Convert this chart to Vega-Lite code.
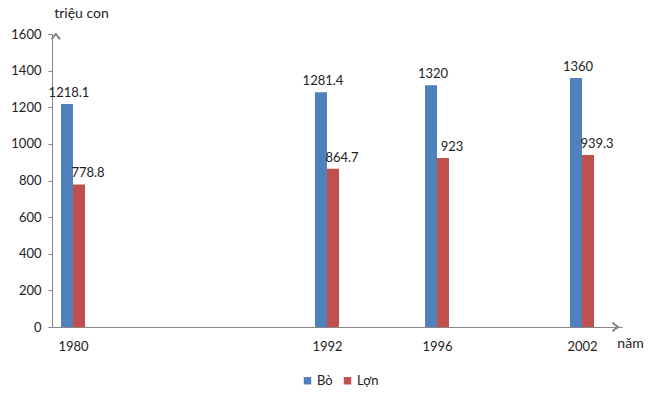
{
  "$schema": "https://vega.github.io/schema/vega-lite/v6.json",
  "autosize": "none",
  "padding": {"left": 52, "top": 34, "right": 29, "bottom": 73},
  "width": 570,
  "height": 293,
  "background": "white",
  "config": {
    "view": {"stroke": null},
    "font": "Lato",
    "axis": {"grid": false, "domainColor": "#868686", "tickColor": "#868686", "labelColor": "#222", "labelFont": "Lato", "labelFontSize": 13, "titleFont": "Lato", "titleFontWeight": "normal", "titleFontSize": 14, "titleColor": "#222", "labelOverlap": false, "labelFlush": false, "labelSeparation": 0}
  },
  "data": {
    "values": [
      {"nam": 1980, "loai": "Bò", "so": 1218.1},
      {"nam": 1992, "loai": "Bò", "so": 1281.4},
      {"nam": 1996, "loai": "Bò", "so": 1320},
      {"nam": 2002, "loai": "Bò", "so": 1360},
      {"nam": 1980, "loai": "Lợn", "so": 778.8},
      {"nam": 1992, "loai": "Lợn", "so": 864.7},
      {"nam": 1996, "loai": "Lợn", "so": 923},
      {"nam": 2002, "loai": "Lợn", "so": 939.3}
    ]
  },
  "encoding": {
    "x": {"field": "nam", "type": "quantitative",
      "scale": {"domain": [1979, 1980, 1992, 1996, 2002, 2004], "range": [0, 21, 275, 385, 530, 570], "nice": false, "zero": false},
      "axis": {"values": [1980, 1992, 1996, 2002], "format": "d", "ticks": false, "labelPadding": 13, "labelOverlap": false, "title": "năm", "titleX": 578, "titleY": 16, "titleAlign": "center", "titleBaseline": "middle"}},
    "y": {"field": "so", "type": "quantitative",
      "scale": {"domain": [0, 1600], "nice": false, "zero": true},
      "axis": {"values": [0, 200, 400, 600, 800, 1000, 1200, 1400, 1600], "labelOverlap": false, "format": "d", "tickSize": 4, "labelPadding": 7, "title": "triệu con", "titleAngle": 0, "titleX": 29, "titleY": -21, "titleAlign": "center", "titleBaseline": "middle"}}
  },
  "layer": [
    {
      "transform": [{"filter": "datum.loai === 'Bò'"}],
      "mark": {"type": "bar", "orient": "vertical", "width": 12, "xOffset": -6},
      "encoding": {
        "color": {"field": "loai", "type": "nominal",
          "scale": {"domain": ["Bò", "Lợn"], "range": ["#4F81BD", "#C0504D"]},
          "legend": {"title": null, "orient": "none", "legendX": 249, "legendY": 340, "direction": "horizontal", "symbolType": "square", "symbolSize": 55, "labelFontSize": 13, "labelFont": "Lato", "labelColor": "#222", "columnPadding": 8, "labelOffset": 3, "symbolStrokeWidth": 0}}
      }
    },
    {
      "transform": [{"filter": "datum.loai === 'Lợn'"}],
      "mark": {"type": "bar", "orient": "vertical", "width": 12, "xOffset": 6},
      "encoding": {
        "color": {"field": "loai", "type": "nominal"}
      }
    },
    {
      "transform": [{"filter": "datum.loai === 'Bò'"}],
      "mark": {"type": "text", "xOffset": -4, "dy": -7, "baseline": "alphabetic", "align": "center", "fontSize": 13, "font": "Lato", "color": "#222"},
      "encoding": {
        "text": {"field": "so", "type": "nominal"}
      }
    },
    {
      "transform": [{"filter": "datum.loai === 'Lợn'"}],
      "mark": {"type": "text", "xOffset": 15, "dy": -7, "baseline": "alphabetic", "align": "center", "fontSize": 13, "font": "Lato", "color": "#222"},
      "encoding": {
        "text": {"field": "so", "type": "nominal"}
      }
    },
    {
      "mark": {"type": "point", "shape": "M-1,1.3L0,0L1,1.3", "filled": false, "stroke": "#868686", "strokeWidth": 1.2, "size": 64, "opacity": 1},
      "encoding": {
        "x": {"datum": 1979, "type": "quantitative"},
        "y": {"datum": 1600, "type": "quantitative"}
      }
    },
    {
      "mark": {"type": "point", "shape": "M-1.3,-1L0,0L-1.3,1", "filled": false, "stroke": "#868686", "strokeWidth": 1.2, "size": 64, "opacity": 1},
      "encoding": {
        "x": {"datum": 2004, "type": "quantitative"},
        "y": {"datum": 0, "type": "quantitative"}
      }
    }
  ]
}
